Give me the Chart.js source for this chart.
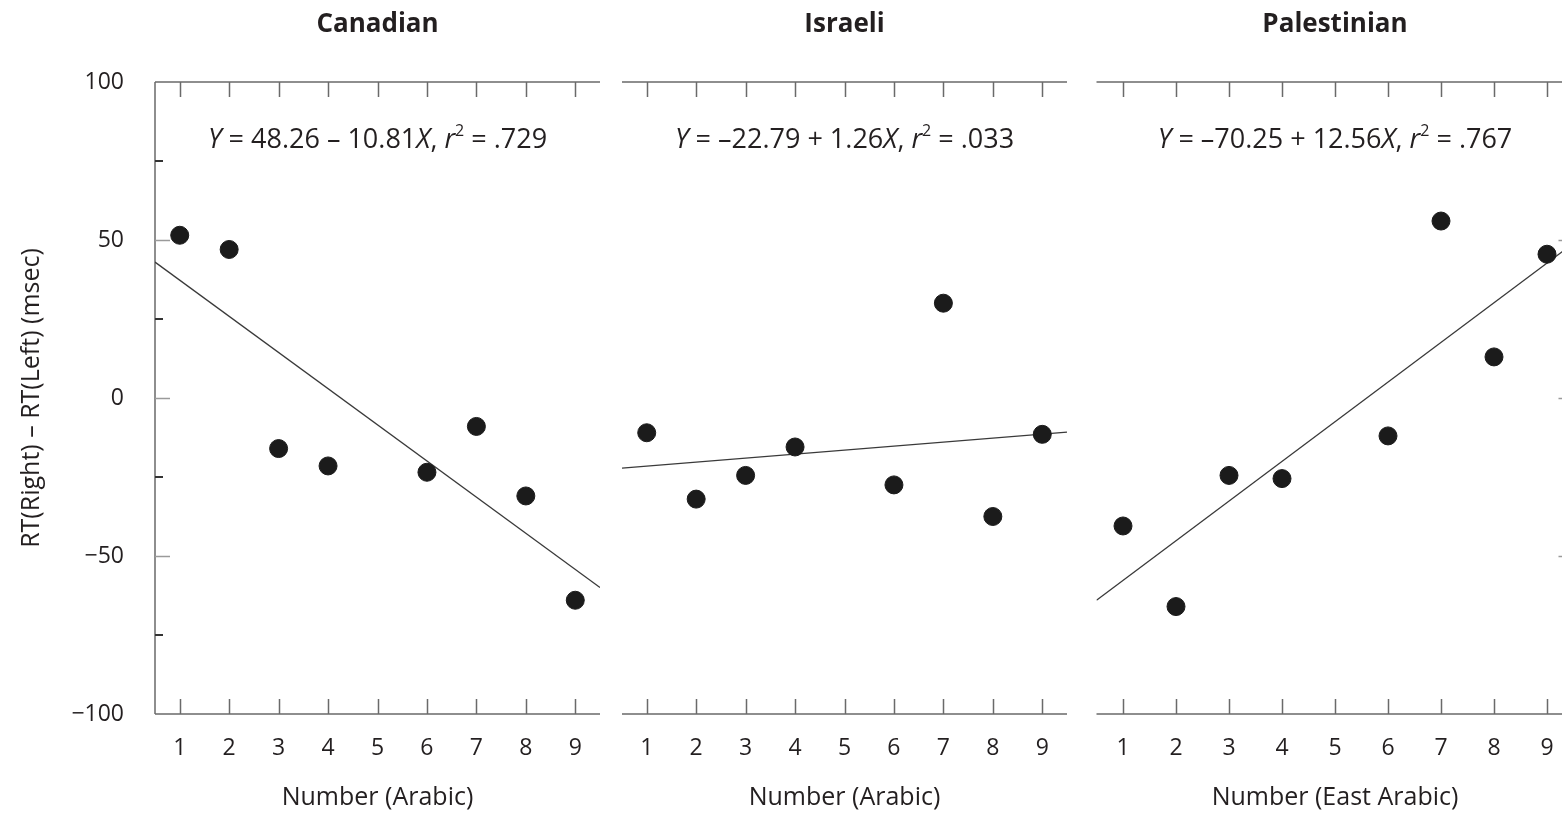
<!DOCTYPE html>
<html>
<head>
<meta charset="utf-8">
<script src="https://cdn.jsdelivr.net/npm/chart.js@4.4.1/dist/chart.umd.min.js"></script>
<style>
  html, body { margin: 0; padding: 0; background: #fff; overflow: hidden; width: 1562px; height: 813px; }
  canvas { position: absolute; top: 0; }
</style>
</head>
<body>
<canvas id="canadianChart" width="612" height="813" style="left:0px"></canvas>
<canvas id="israeliChart" width="468" height="813" style="left:612px"></canvas>
<canvas id="palestinianChart" width="510" height="813" style="left:1080px"></canvas>
<script>
// numbers shown (5 has no point in any panel)
const numbers = [1, 2, 3, 4, 6, 7, 8, 9];
const canadianRT = [51.5, 47, -16, -21.5, -23.5, -9, -31, -64];
const israeliRT = [-11, -32, -24.5, -15.5, -27.5, 30, -37.5, -11.5];
const palestinianRT = [-40.5, -66, -24.5, -25.5, -12, 56, 13, 45.5];

// regression lines, read at the panel edges
const fitX = [0.5, 9.5];
const canadianFit = [43, -60];
const israeliFit = [-22.2, -10.8];
const palestinianFit = [-64, 49];

const xTicks = [1, 2, 3, 4, 5, 6, 7, 8, 9];
const yLabelTicks = [100, 50, 0, -50, -100];
const yMajorTicks = [50, 0, -50];
const yMinorTicks = [75, 25, -25, -75];

const canadianEq = [['Y', 'i'], [' = 48.26 – 10.81', ''], ['X', 'i'], [', ', ''], ['r', 'i'], ['2', 'sup'], [' = .729', '']];
const israeliEq = [['Y', 'i'], [' = –22.79 + 1.26', ''], ['X', 'i'], [', ', ''], ['r', 'i'], ['2', 'sup'], [' = .033', '']];
const palestinianEq = [['Y', 'i'], [' = –70.25 + 12.56', ''], ['X', 'i'], [', ', ''], ['r', 'i'], ['2', 'sup'], [' = .767', '']];

const FONT = "'Open Sans', 'Noto Sans', sans-serif";
const TEXT = '#231f20';
const AXIS = '#6a6a6a';

// top/bottom frame lines with inward ticks, optional left/right y frame
const framePlugin = {
  id: 'frame',
  beforeDatasetsDraw(chart, args, opts) {
    const { ctx, chartArea: a, scales } = chart;
    ctx.save();
    ctx.strokeStyle = AXIS;
    ctx.lineWidth = 1.5;
    ctx.beginPath();
    ctx.moveTo(a.left, a.top); ctx.lineTo(a.right, a.top);
    ctx.moveTo(a.left, a.bottom); ctx.lineTo(a.right, a.bottom);
    xTicks.forEach((v) => {
      const px = Math.round(scales.x.getPixelForValue(v)) + 0.5;
      ctx.moveTo(px, a.top); ctx.lineTo(px, a.top + 15);
      ctx.moveTo(px, a.bottom); ctx.lineTo(px, a.bottom - 15);
    });
    const sides = [];
    if (opts.left) sides.push([a.left, 1]);
    if (opts.right) sides.push([a.right, -1]);
    sides.forEach(([x, dir]) => {
      ctx.moveTo(x, a.top); ctx.lineTo(x, a.bottom);
    });
    ctx.stroke();
    sides.forEach(([x, dir]) => {
      ctx.beginPath();
      ctx.strokeStyle = '#9a9a9a';
      yMajorTicks.forEach((v) => {
        const py = Math.round(scales.y.getPixelForValue(v)) + 0.5;
        ctx.moveTo(x, py); ctx.lineTo(x + dir * 15, py);
      });
      ctx.stroke();
      ctx.beginPath();
      ctx.strokeStyle = '#333';
      ctx.lineWidth = 2;
      yMinorTicks.forEach((v) => {
        const py = Math.round(scales.y.getPixelForValue(v));
        ctx.moveTo(x, py); ctx.lineTo(x + dir * 8, py);
      });
      ctx.stroke();
    });
    ctx.restore();
  },
};

// regression equation with italic variables
const equationPlugin = {
  id: 'equation',
  afterDraw(chart, args, opts) {
    const { ctx, chartArea: a } = chart;
    const size = 27;
    const fontFor = (kind) => {
      if (kind === 'i') return `italic ${size}px ${FONT}`;
      if (kind === 'sup') return `${Math.round(size * 0.6)}px ${FONT}`;
      return `${size}px ${FONT}`;
    };
    ctx.save();
    ctx.fillStyle = TEXT;
    ctx.textBaseline = 'middle';
    ctx.textAlign = 'left';
    let total = 0;
    opts.parts.forEach(([t, k]) => { ctx.font = fontFor(k); total += ctx.measureText(t).width; });
    let x = (a.left + a.right) / 2 - total / 2;
    const y = a.top + 58;
    opts.parts.forEach(([t, k]) => {
      ctx.font = fontFor(k);
      ctx.fillText(t, x, k === 'sup' ? y - 9 : y);
      x += ctx.measureText(t).width;
    });
    ctx.restore();
  },
};

function makePanel(id, title, xTitle, values, fit, eq, padding, showY, frame) {
  const ctx = document.getElementById(id).getContext('2d');
  return new Chart(ctx, {
    type: 'scatter',
    data: {
      datasets: [
        {
          label: title,
          data: numbers.map((n, i) => ({ x: n, y: values[i] })),
          backgroundColor: '#1b1b1b',
          borderColor: '#1b1b1b',
          pointRadius: 9,
          pointHoverRadius: 9,
        },
        {
          label: 'Fit',
          data: fitX.map((x, i) => ({ x: x, y: fit[i] })),
          showLine: true,
          borderColor: '#3a3a3a',
          borderWidth: 1.3,
          pointRadius: 0,
        },
      ],
    },
    options: {
      responsive: false,
      animation: false,
      layout: { padding: padding },
      scales: {
        x: {
          type: 'linear',
          min: 0.5,
          max: 9.5,
          grid: { display: false },
          border: { display: false },
          afterBuildTicks: (scale) => { scale.ticks = xTicks.map((v) => ({ value: v })); },
          afterFit: (scale) => { scale.height = 99; },
          ticks: {
            padding: 13,
            color: TEXT,
            font: { family: FONT, size: 23 },
            callback: (v) => String(v),
          },
          title: {
            display: true,
            text: xTitle,
            color: TEXT,
            font: { family: FONT, size: 25 },
            padding: { top: 0, bottom: 0 },
          },
        },
        y: {
          min: -100,
          max: 100,
          display: showY,
          grid: { display: false },
          border: { display: false },
          afterBuildTicks: (scale) => { scale.ticks = yLabelTicks.map((v) => ({ value: v })); },
          afterFit: (scale) => { if (showY) scale.width = 155; },
          ticks: {
            padding: 23,
            color: TEXT,
            font: { family: FONT, size: 23 },
            callback: (v) => (v < 0 ? '−' + Math.abs(v) : String(v)),
          },
          title: {
            display: showY,
            text: 'RT(Right) – RT(Left) (msec)',
            color: TEXT,
            font: { family: FONT, size: 25 },
            padding: { top: 17, bottom: 0 },
          },
        },
      },
      plugins: {
        legend: { display: false },
        tooltip: { enabled: false },
        title: {
          display: true,
          text: title,
          fullSize: false,
          color: TEXT,
          font: { family: FONT, size: 26, weight: 'bold' },
          padding: { top: 9.4, bottom: 41.4 },
        },
        frame: frame,
        equation: { parts: eq },
      },
    },
    plugins: [framePlugin, equationPlugin],
  });
}

makePanel('canadianChart', 'Canadian', 'Number (Arabic)', canadianRT, canadianFit, canadianEq,
  { left: 0, right: 12, top: 0, bottom: 0 }, true, { left: true, right: false });
makePanel('israeliChart', 'Israeli', 'Number (Arabic)', israeliRT, israeliFit, israeliEq,
  { left: 10, right: 13, top: 0, bottom: 0 }, false, { left: false, right: false });
makePanel('palestinianChart', 'Palestinian', 'Number (East Arabic)', palestinianRT, palestinianFit, palestinianEq,
  { left: 16.5, right: 16.5, top: 0, bottom: 0 }, false, { left: false, right: true });
</script>
</body>
</html>
